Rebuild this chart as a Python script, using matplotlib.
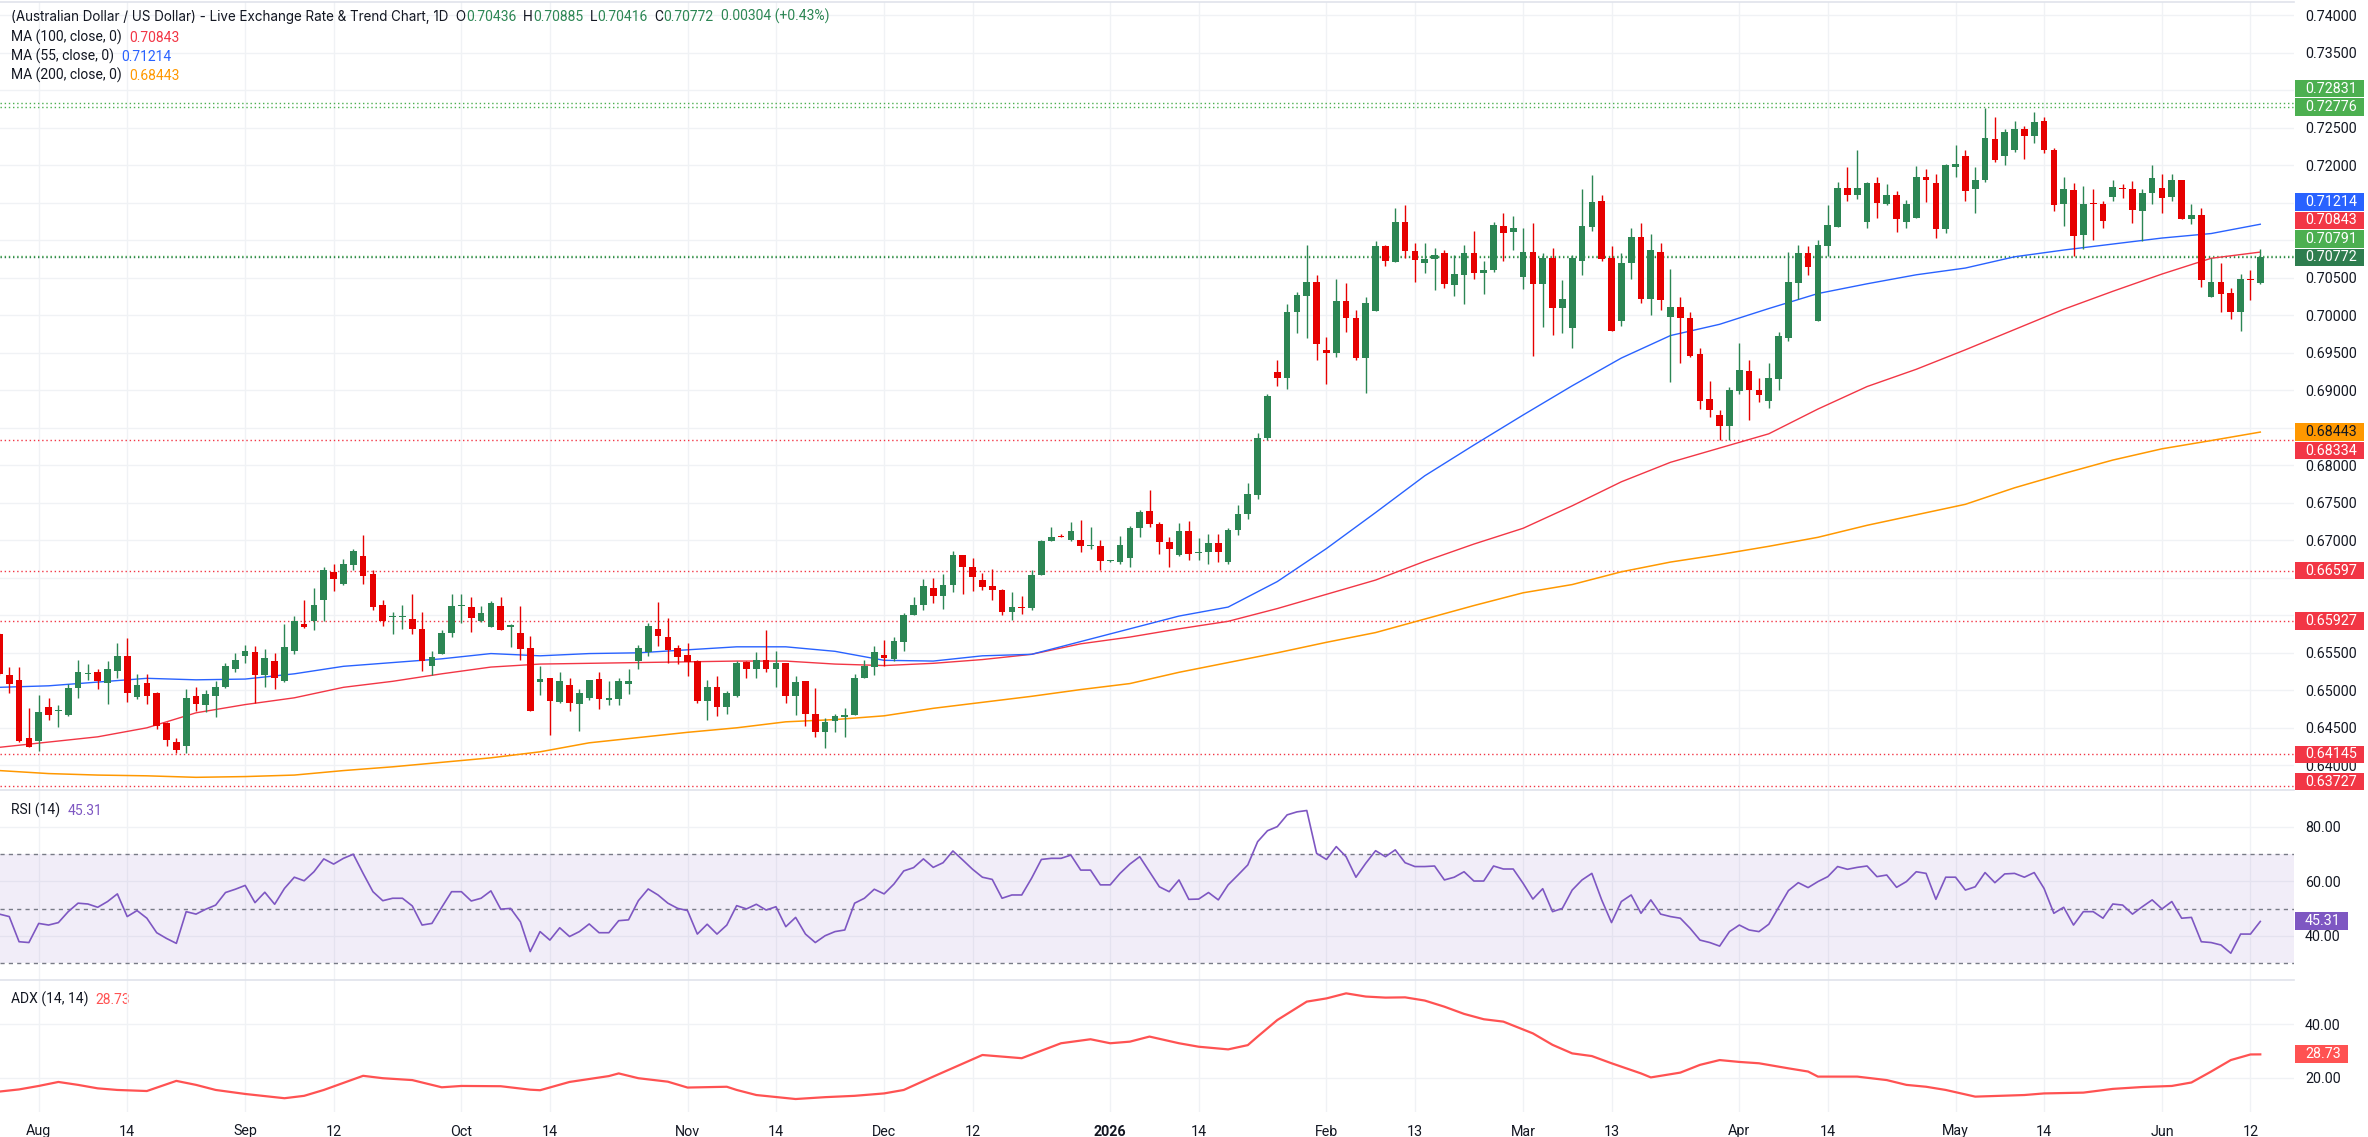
import numpy as np
import pandas as pd
import matplotlib
matplotlib.use("Agg")
import matplotlib.pyplot as plt
from matplotlib.transforms import blended_transform_factory
from matplotlib.patches import Rectangle

# ---------------- data ----------------
FIRST_DAY = "2025-07-28"
LAST_DAY = "2026-06-15"

OPEN = [
    .6575, .6521, .6514, .6437, .6432, .6478, .6473, .6467, .6503, .6522,
    .6524, .6510, .6526, .6546, .6491, .6510, .6497, .6456, .6431, .6426,
    .6492, .6480, .6492, .6505, .6529, .6546, .6551, .6521, .6539, .6512,
    .6553, .6588, .6592, .6621, .6658, .6642, .6667, .6679, .6655, .6614,
    .6598, .6598, .6595, .6582, .6533, .6549, .6577, .6613, .6611, .6593,
    .6585, .6613, .6584, .6577, .6556, .6511, .6516, .6485, .6507, .6482,
    .6490, .6515, .6488, .6488, .6509, .6539, .6551, .6582, .6571, .6556,
    .6547, .6539, .6486, .6505, .6478, .6492, .6538, .6529, .6541, .6529,
    .6537, .6492, .6512, .6468, .6444, .6459, .6465, .6467, .6517, .6531,
    .6547, .6542, .6565, .6601, .6614, .6637, .6626, .6640, .6680, .6665,
    .6647, .6639, .6634, .6604, .6611, .6610, .6654, .6699, .6706, .6701,
    .6701, .6692, .6693, .6673, .6671, .6677, .6716, .6739, .6722, .6698,
    .6681, .6713, .6683, .6684, .6697, .6671, .6714, .6735, .6761, .6837,
    .6925, .6917, .7004, .7026, .7045, .6954, .6950, .7019, .6996, .6943,
    .7006, .7092, .7071, .7124, .7086, .7070, .7075, .7083, .7041, .7054,
    .7083, .7056, .7060, .7119, .7111, .7051, .7085, .7042, .7077, .7010,
    .6983, .7073, .7118, .7152, .7077, .6993, .7070, .7104, .7022, .7085,
    .6998, .7011, .6996, .6948, .6888, .6867, .6852, .6899, .6926, .6900,
    .6886, .6915, .6970, .7043, .7083, .6992, .7093, .7118, .7170, .7160,
    .7124, .7176, .7149, .7160, .7125, .7130, .7184, .7176, .7115, .7198,
    .7213, .7168, .7181, .7235, .7213, .7221, .7248, .7239, .7259, .7221,
    .7149, .7167, .7107, .7149, .7149, .7158, .7170, .7168, .7139, .7163,
    .7170, .7158, .7180, .7129, .7134, .7024, .7044, .7030, .7004, .7048,
    .70436]

HIGH = [
    .6577, .6531, .6531, .6476, .6494, .6490, .6480, .6509, .6541, .6535,
    .6529, .6539, .6563, .6570, .6522, .6522, .6498, .6458, .6437, .6502,
    .6505, .6501, .6512, .6536, .6550, .6560, .6559, .6555, .6550, .6589,
    .6599, .6621, .6637, .6665, .6669, .6675, .6688, .6707, .6660, .6620,
    .6604, .6614, .6628, .6604, .6552, .6580, .6628, .6629, .6624, .6613,
    .6619, .6624, .6589, .6612, .6573, .6533, .6516, .6524, .6516, .6502,
    .6514, .6525, .6512, .6517, .6529, .6560, .6590, .6618, .6597, .6560,
    .6563, .6540, .6514, .6519, .6499, .6539, .6539, .6551, .6580, .6553,
    .6537, .6519, .6513, .6503, .6463, .6469, .6476, .6522, .6540, .6559,
    .6567, .6571, .6603, .6624, .6649, .6650, .6655, .6686, .6680, .6676,
    .6656, .6662, .6635, .6631, .6626, .6660, .6701, .6718, .6709, .6724,
    .6727, .6718, .6701, .6674, .6706, .6719, .6740, .6767, .6724, .6704,
    .6723, .6726, .6703, .6709, .6709, .6717, .6747, .6777, .6843, .6895,
    .6940, .7015, .7031, .7094, .7054, .6971, .7049, .7043, .7007, .7024,
    .7099, .7094, .7143, .7147, .7096, .7096, .7090, .7087, .7080, .7094,
    .7112, .7072, .7124, .7136, .7132, .7117, .7123, .7083, .7090, .7047,
    .7080, .7168, .7187, .7160, .7092, .7083, .7117, .7123, .7108, .7096,
    .7062, .7024, .7004, .6956, .6913, .6874, .6904, .6963, .6940, .6916,
    .6937, .6978, .7084, .7094, .7093, .7100, .7147, .7178, .7198, .7221,
    .7178, .7185, .7175, .7166, .7154, .7199, .7195, .7189, .7202, .7227,
    .7220, .7198, .7277, .7264, .7249, .7259, .7253, .7271, .7265, .7223,
    .7184, .7176, .7173, .7168, .7153, .7181, .7175, .7179, .7169, .7200,
    .7189, .7188, .7181, .7148, .7143, .7077, .7070, .7037, .7055, .7060,
    .70885]

LOW = [
    .6521, .6497, .6431, .6425, .6419, .6461, .6451, .6466, .6490, .6514,
    .6502, .6482, .6516, .6484, .6488, .6482, .6449, .6426, .6416, .6416,
    .6473, .6471, .6465, .6503, .6524, .6536, .6483, .6505, .6502, .6511,
    .6548, .6583, .6580, .6592, .6633, .6641, .6660, .6642, .6607, .6586,
    .6575, .6582, .6575, .6526, .6521, .6548, .6571, .6590, .6578, .6591,
    .6585, .6580, .6558, .6541, .6473, .6494, .6441, .6483, .6472, .6446,
    .6487, .6475, .6480, .6480, .6495, .6529, .6546, .6559, .6536, .6535,
    .6519, .6483, .6460, .6466, .6469, .6491, .6516, .6517, .6525, .6505,
    .6483, .6467, .6452, .6438, .6423, .6444, .6438, .6467, .6517, .6521,
    .6533, .6539, .6552, .6600, .6607, .6616, .6609, .6631, .6628, .6633,
    .6634, .6620, .6600, .6594, .6602, .6607, .6654, .6699, .6704, .6699,
    .6684, .6688, .6660, .6671, .6669, .6664, .6704, .6718, .6682, .6665,
    .6679, .6674, .6674, .6668, .6671, .6669, .6707, .6729, .6755, .6834,
    .6906, .6902, .6977, .6970, .6941, .6909, .6945, .6978, .6941, .6896,
    .7006, .7066, .7071, .7077, .7044, .7057, .7034, .7036, .7026, .7015,
    .7049, .7028, .7058, .7072, .7087, .7035, .6946, .6985, .6974, .6977,
    .6956, .7054, .7113, .7072, .6979, .6986, .7049, .7017, .7000, .7007,
    .6911, .6937, .6944, .6875, .6865, .6834, .6834, .6895, .6861, .6885,
    .6876, .6900, .6966, .7022, .7054, .6992, .7079, .7118, .7153, .7155,
    .7117, .7130, .7147, .7111, .7116, .7130, .7151, .7103, .7110, .7184,
    .7153, .7136, .7178, .7204, .7201, .7218, .7209, .7230, .7216, .7139,
    .7119, .7079, .7088, .7100, .7117, .7153, .7156, .7123, .7099, .7149,
    .7136, .7153, .7128, .7122, .7038, .7024, .7005, .6995, .6979, .7021,
    .70416]

CLOSE = [
    .6522, .6509, .6433, .6425, .6471, .6467, .6474, .6503, .6524, .6523,
    .6513, .6529, .6546, .6497, .6507, .6492, .6453, .6434, .6420, .6490,
    .6482, .6495, .6505, .6533, .6541, .6552, .6520, .6543, .6517, .6558,
    .6592, .6584, .6614, .6660, .6649, .6669, .6686, .6653, .6611, .6593,
    .6599, .6599, .6582, .6539, .6545, .6577, .6613, .6614, .6596, .6603,
    .6617, .6581, .6587, .6555, .6473, .6515, .6486, .6512, .6483, .6497,
    .6514, .6488, .6489, .6512, .6512, .6556, .6586, .6573, .6554, .6544,
    .6538, .6486, .6505, .6478, .6497, .6537, .6529, .6541, .6529, .6536,
    .6492, .6511, .6468, .6444, .6458, .6466, .6467, .6517, .6532, .6551,
    .6543, .6566, .6601, .6614, .6639, .6626, .6640, .6680, .6665, .6651,
    .6638, .6634, .6604, .6611, .6610, .6654, .6699, .6705, .6705, .6713,
    .6692, .6693, .6673, .6674, .6694, .6716, .6738, .6722, .6698, .6689,
    .6713, .6682, .6684, .6697, .6685, .6714, .6735, .6762, .6837, .6893,
    .6916, .7005, .7027, .7045, .6962, .6950, .7019, .6996, .6943, .7017,
    .7092, .7072, .7124, .7086, .7074, .7075, .7081, .7042, .7055, .7083,
    .7056, .7060, .7121, .7110, .7116, .7085, .7042, .7077, .7010, .7022,
    .7076, .7119, .7151, .7075, .6979, .7070, .7104, .7022, .7087, .7021,
    .7011, .6996, .6946, .6886, .6874, .6852, .6900, .6927, .6901, .6894,
    .6917, .6973, .7044, .7083, .7065, .7094, .7120, .7170, .7160, .7170,
    .7177, .7150, .7160, .7128, .7149, .7185, .7181, .7115, .7200, .7202,
    .7166, .7181, .7236, .7207, .7244, .7249, .7239, .7258, .7220, .7147,
    .7168, .7106, .7149, .7148, .7126, .7171, .7168, .7141, .7163, .7183,
    .7157, .7180, .7128, .7134, .7047, .7044, .7029, .7004, .7048, .70468,
    .70772]

# moving averages read every 5 sessions
MA_IDX = list(range(0, 231, 5))
MA55 = [.6504, .6506, .6511, .6516, .6514, .6515, .6522, .6532, .6537, .6542,
        .6549, .6546, .6549, .6550, .6554, .6558, .6558, .6552, .6540, .6539,
        .6546, .6548, .6565, .6582, .6599, .6611, .6645, .6689, .6737, .6786,
        .6827, .6867, .6906, .6943, .6973, .6988, .7009, .7029, .7042, .7054,
        .7063, .7078, .7087, .7095, .7103, .7109, .71214]
MA100 = [.6424, .6431, .6438, .6450, .6470, .6481, .6490, .6504, .6512, .6522,
         .6531, .6535, .6536, .6537, .6538, .6539, .6539, .6535, .6533, .6536,
         .6541, .6548, .6562, .6571, .6582, .6592, .6609, .6628, .6647, .6672,
         .6695, .6716, .6746, .6778, .6804, .6823, .6842, .6875, .6905, .6928,
         .6954, .6981, .7008, .7032, .7055, .7076, .70843]
MA200 = [.6393, .6389, .6387, .6386, .6384, .6385, .6387, .6393, .6398, .6404,
         .6410, .6418, .6430, .6437, .6444, .6450, .6458, .6461, .6466, .6476,
         .6484, .6492, .6501, .6509, .6524, .6537, .6550, .6564, .6577, .6595,
         .6613, .6630, .6641, .6658, .6671, .6681, .6692, .6704, .6720, .6734,
         .6748, .6770, .6789, .6807, .6822, .6833, .68443]

RSI14 = [
    48.0, 47.1, 37.9, 37.6, 44.6, 44.0, 44.9, 48.9, 52.0, 51.7,
    50.5, 52.6, 55.4, 47.1, 49.3, 46.5, 41.2, 39.1, 37.3, 48.9,
    48.0, 49.8, 51.3, 55.9, 57.1, 58.5, 52.2, 56.0, 51.6, 57.4,
    61.5, 60.2, 63.5, 68.2, 66.3, 68.4, 69.9, 62.9, 56.2, 52.9,
    53.8, 53.8, 51.0, 44.0, 44.6, 50.5, 56.2, 56.2, 52.8, 53.8,
    56.5, 49.8, 50.1, 45.2, 34.3, 41.6, 38.5, 43.0, 39.8, 41.6,
    44.4, 41.2, 41.2, 45.6, 45.9, 52.9, 57.2, 55.0, 52.0, 50.1,
    49.3, 40.7, 44.3, 40.7, 44.0, 51.1, 49.9, 51.6, 49.5, 50.7,
    43.4, 46.8, 40.7, 37.6, 40.1, 41.6, 42.2, 52.0, 53.8, 57.1,
    55.4, 59.0, 63.8, 65.0, 68.2, 65.1, 66.8, 71.1, 67.8, 64.4,
    61.5, 60.7, 53.8, 55.0, 55.0, 61.1, 68.0, 68.4, 68.4, 69.6,
    64.1, 64.1, 58.7, 58.7, 62.9, 66.3, 69.0, 63.5, 58.0, 56.2,
    60.5, 53.4, 53.5, 55.9, 53.2, 58.7, 62.3, 66.0, 74.5, 78.5,
    80.0, 84.3, 85.4, 85.9, 70.2, 68.0, 72.7, 69.0, 61.5, 66.6,
    71.2, 69.0, 71.5, 66.8, 65.4, 65.4, 65.6, 60.5, 61.5, 63.5,
    60.1, 60.1, 65.6, 64.5, 64.5, 59.3, 53.5, 57.3, 48.9, 50.1,
    56.8, 60.5, 62.9, 53.2, 44.9, 52.6, 55.0, 48.3, 53.2, 48.0,
    47.1, 46.5, 42.8, 38.5, 37.6, 36.3, 41.6, 44.0, 42.2, 41.6,
    44.3, 50.5, 56.6, 59.5, 57.7, 59.9, 61.7, 65.4, 64.4, 65.1,
    65.6, 61.7, 62.3, 57.8, 59.9, 63.5, 62.9, 53.4, 61.5, 61.5,
    56.8, 58.0, 63.2, 59.5, 62.7, 62.9, 61.5, 63.2, 57.4, 48.3,
    50.5, 44.0, 48.9, 48.9, 46.5, 51.7, 51.3, 48.0, 50.7, 53.2,
    49.9, 52.6, 46.5, 46.8, 37.9, 37.6, 36.7, 33.7, 40.7, 40.7,
    45.31]

ADX_IDX = [0, 2, 4, 6, 8, 10, 12, 15, 18, 20, 22, 25, 29, 31, 33, 37, 39, 42,
           45, 47, 51, 54, 55, 58, 62, 63, 65, 68, 70, 74, 75, 77, 81, 84, 87,
           90, 92, 95, 100, 104, 108, 111, 113, 115, 117, 120, 122, 125, 127,
           128, 130, 133, 135, 137, 139, 141, 143, 145, 147, 149, 151, 153, 156,
           158, 160, 162, 164, 167, 168, 171, 173, 175, 177, 179, 182, 184, 185,
           189, 192, 194, 196, 198, 201, 206, 208, 212, 215, 218, 221, 223, 225,
           227, 229, 230]
ADX14 = [14.8, 15.6, 16.9, 18.4, 17.3, 16.0, 15.4, 15.0, 18.8, 17.3, 15.4, 13.9,
         12.3, 13.2, 15.4, 20.7, 19.8, 19.1, 16.4, 16.9, 16.8, 15.5, 15.3, 18.4,
         20.6, 21.6, 19.8, 18.5, 16.3, 16.6, 15.4, 13.5, 12.0, 12.7, 13.2, 14.1,
         15.4, 20.4, 28.5, 27.3, 32.9, 34.4, 32.9, 33.5, 35.4, 32.9, 31.6, 30.6,
         32.2, 35.4, 41.6, 48.5, 49.7, 51.6, 50.4, 50.0, 50.1, 48.9, 46.6, 43.9,
         41.9, 41.0, 36.6, 32.3, 29.1, 28.1, 25.4, 21.6, 20.1, 21.9, 24.8, 26.6,
         25.9, 25.4, 23.5, 22.3, 20.4, 20.4, 19.1, 17.3, 16.6, 15.4, 12.9, 13.5,
         14.1, 14.4, 15.8, 16.5, 16.9, 18.2, 22.3, 26.6, 28.7, 28.73]

LINES_GREEN = [0.72831, 0.72776, 0.70791]
LINES_RED = [0.68334, 0.66597, 0.65927, 0.64145, 0.63727]
LAST_PRICE = 0.70772
MA100_LAST, MA55_LAST, MA200_LAST = 0.70843, 0.71214, 0.68443
RSI_LAST, ADX_LAST = 45.31, 28.73

TICK_DATES = ['2025-08-01', '2025-08-14', '2025-09-01', '2025-09-12', '2025-10-01',
              '2025-10-14', '2025-11-03', '2025-11-14', '2025-12-01', '2025-12-12',
              '2026-01-01', '2026-01-14', '2026-02-02', '2026-02-13', '2026-03-02',
              '2026-03-13', '2026-04-01', '2026-04-14', '2026-05-01', '2026-05-14',
              '2026-06-01', '2026-06-12']
TICK_LABELS = ['Aug', '14', 'Sep', '12', 'Oct', '14', 'Nov', '14', 'Dec', '12',
               '2026', '14', 'Feb', '13', 'Mar', '13', 'Apr', '14', 'May', '14',
               'Jun', '12']

PRICE_TICKS = [round(0.640 + 0.005 * k, 3) for k in range(21)]
RSI_TICKS = [40, 60, 80]
ADX_TICKS = [20, 40]

# ---------------- style ----------------
plt.rcParams['font.family'] = ['Roboto', 'DejaVu Sans']
TITLE_FAMILY = ['Inter', 'Roboto', 'DejaVu Sans']
TXT = '#131722'
UP = '#2C8654'
DN = '#E60000'
GRID = '#F0F2F5'
SEP = '#E0E3EB'
C_MA55 = '#2962FF'
C_MA100 = '#F23645'
C_MA200 = '#FF9800'
C_LG = '#4CAF50'
C_LAST = '#2E7D4F'
C_RSI = '#7E57C2'
C_ADX = '#FF5252'
FS_AX = 10.3
FS_LEG = 10.0
FS_TITLE = 9.7

W, H = 2368, 1137
PR = 2294  # right edge of plotting area (px)

fig = plt.figure(figsize=(W / 100, H / 100), dpi=100)
fig.patch.set_facecolor('white')


def add_ax(top, bottom):
    return fig.add_axes([0, 1 - bottom / H, PR / W, (bottom - top) / H])


ax = add_ax(2, 790)
ax_r = add_ax(790, 980)
ax_a = add_ax(980, 1112)

dates = pd.bdate_range(FIRST_DAY, LAST_DAY)
n = len(dates)
idx = np.arange(n)
O, Hh, L, C = (np.array(a, float) for a in (OPEN, HIGH, LOW, CLOSE))
assert len(O) == n == len(RSI14)

tick_pos = [dates.get_loc(pd.Timestamp(d)) for d in TICK_DATES]
XLIM = (0.06, 233.43)
YLIM = (0.63671, 0.74177)
RLIM = (23.9, 93.4)
ALIM = (7.14, 56.6)
MAIN_H = 790 - 2
px_per_unit = MAIN_H / (YLIM[1] - YLIM[0])

for a in (ax, ax_r, ax_a):
    a.set_xlim(*XLIM)
    a.set_xticks(tick_pos)
    a.grid(True, axis='both', color=GRID, lw=1.0, zorder=0)
    a.set_axisbelow(True)
    for s in ('left', 'right', 'bottom'):
        a.spines[s].set_visible(False)
    a.spines['top'].set_color(SEP)
    a.spines['top'].set_linewidth(1.2)
    a.yaxis.tick_right()
    a.tick_params(axis='both', length=0, labelsize=FS_AX, labelcolor=TXT)
    a.tick_params(axis='y', pad=8)
    a.set_facecolor('none')

ax.tick_params(axis='x', labelbottom=False)
ax_r.tick_params(axis='x', labelbottom=False)
ax_a.set_xticklabels(TICK_LABELS)
ax_a.tick_params(axis='x', pad=9)
for t in ax_a.get_xticklabels():
    if t.get_text() == '2026':
        t.set_fontweight('bold')

# ---- price-scale badge positions (stacked away from the last price) ----
main_badges = [
    (0.72831, C_LG, 'white'), (0.72776, C_LG, 'white'),
    (MA55_LAST, C_MA55, 'white'), (MA100_LAST, C_MA100, 'white'),
    (0.70791, C_LG, 'white'), (LAST_PRICE, C_LAST, 'white'),
    (MA200_LAST, C_MA200, TXT), (0.68334, C_MA100, 'white'),
    (0.66597, C_MA100, 'white'), (0.65927, C_MA100, 'white'),
    (0.64145, C_MA100, 'white'), (0.63727, C_MA100, 'white')]
gap = 18.5 / px_per_unit
vals = np.array([b[0] for b in main_badges])
pos = vals.copy()
above = sorted([k for k in range(len(vals)) if vals[k] >= LAST_PRICE], key=lambda k: vals[k])
prev = None
for k in above:
    if prev is not None:
        pos[k] = max(vals[k], prev + gap)
    prev = pos[k]
below = sorted([k for k in range(len(vals)) if vals[k] < LAST_PRICE], key=lambda k: -vals[k])
prev = LAST_PRICE
for k in below:
    pos[k] = min(vals[k], prev - gap)
    prev = pos[k]
floor = YLIM[0] + 8.5 / px_per_unit
prev = None
for k in sorted(below, key=lambda k: pos[k]):
    lo = floor if prev is None else prev + gap
    pos[k] = max(pos[k], lo)
    prev = pos[k]

# ---- main price panel ----
ax.set_ylim(*YLIM)
ax.set_yticks(PRICE_TICKS)
labels = []
for v in PRICE_TICKS:
    hidden = np.min(np.abs(pos - v)) * px_per_unit < 10.0
    labels.append('' if hidden else f"{v:.5f}")
ax.set_yticklabels(labels)

for v in LINES_GREEN:
    ax.axhline(v, color=C_LG, lw=1.0, ls=(0, (1, 2)), zorder=1)
ax.axhline(LAST_PRICE, color=C_LAST, lw=1.0, ls=(0, (1, 2)), zorder=1)
for v in LINES_RED:
    ax.axhline(v, color=C_MA100, lw=1.0, ls=(0, (1, 2)), zorder=1)

ax.plot(MA_IDX, MA200, color=C_MA200, lw=1.1, zorder=2)
ax.plot(MA_IDX, MA100, color=C_MA100, lw=1.0, zorder=2)
ax.plot(MA_IDX, MA55, color=C_MA55, lw=1.0, zorder=2)

up = C >= O
cols = np.where(up, UP, DN)
ax.vlines(idx, L, Hh, colors=cols, linewidth=1.0, zorder=3)
body_lo = np.minimum(O, C)
body_h = np.abs(C - O)
min_h = 0.00015
small = body_h < min_h
body_lo = np.where(small, (O + C) / 2 - min_h / 2, body_lo)
body_h = np.where(small, min_h, body_h)
ax.bar(idx, body_h, bottom=body_lo, width=0.68, color=cols, linewidth=0, zorder=4)

# ---- RSI panel ----
ax_r.set_ylim(*RLIM)
ax_r.set_yticks(RSI_TICKS)
ax_r.set_yticklabels([f"{v:.2f}" for v in RSI_TICKS])
ax_r.axhspan(30, 70, color=C_RSI, alpha=0.10, lw=0, zorder=1)
for lvl in (70, 50, 30):
    ax_r.axhline(lvl, color='#787B86', lw=1.0, ls=(0, (3, 3)), zorder=2)
ax_r.plot(idx, RSI14, color=C_RSI, lw=1.2, zorder=3)

# ---- ADX panel ----
ax_a.set_ylim(*ALIM)
ax_a.set_yticks(ADX_TICKS)
ax_a.set_yticklabels([f"{v:.2f}" for v in ADX_TICKS])
ax_a.plot(ADX_IDX, ADX14, color=C_ADX, lw=1.6, zorder=3)


def badge(a, yval, text, fc, tc='white', w_px=69, h_px=17.5):
    tr = blended_transform_factory(a.transAxes, a.transData)
    y0, y1 = a.get_ylim()
    ax_h = a.get_position().height * H
    h = h_px * (y1 - y0) / ax_h
    a.add_patch(Rectangle((1 + 1 / PR, yval - h / 2), w_px / PR, h, transform=tr,
                          facecolor=fc, edgecolor='none', clip_on=False, zorder=20))
    a.text(1 + 11 / PR, yval, text, transform=tr, ha='left', va='center',
           color=tc, fontsize=FS_AX, zorder=21, clip_on=False)


for (v, fc, tc), p in zip(main_badges, pos):
    badge(ax, p, f"{v:.5f}", fc, tc)
badge(ax_r, RSI_LAST, f"{RSI_LAST:.2f}", C_RSI, w_px=53, h_px=18)
badge(ax_a, ADX_LAST, f"{ADX_LAST:.2f}", C_ADX, w_px=53, h_px=18)

for a, lim in ((ax, YLIM), (ax_r, RLIM), (ax_a, ALIM)):
    a.set_ylim(*lim)
    a.set_xlim(*XLIM)


# ---- legends ----
def chain(parts, x_px, y_px, fs=FS_LEG, first_family=None, first_fs=None):
    kw = {'family': first_family} if first_family else {}
    prev = ax.annotate(parts[0][0], xy=(x_px, H - y_px), xycoords='figure pixels',
                       ha='left', va='center', color=parts[0][1],
                       fontsize=first_fs or fs, annotation_clip=False, zorder=30, **kw)
    for s, c in parts[1:]:
        prev = ax.annotate(s, xy=(1, 0), xycoords=prev, ha='left', va='bottom',
                           color=c, fontsize=fs, annotation_clip=False, zorder=30)


chain([("(Australian Dollar / US Dollar) - Live Exchange Rate & Trend Chart, 1D  O", TXT),
       (f"{OPEN[-1]:.5f}", UP), ("  H", TXT), (f"{HIGH[-1]:.5f}", UP),
       ("  L", TXT), (f"{LOW[-1]:.5f}", UP), ("  C", TXT), (f"{CLOSE[-1]:.5f}", UP),
       (f"  {CLOSE[-1] - CLOSE[-2]:.5f} (+{(CLOSE[-1] / CLOSE[-2] - 1) * 100:.2f}%)", UP)],
      11, 17, first_family=TITLE_FAMILY, first_fs=FS_TITLE)
chain([("MA (100, close, 0)  ", TXT), (f"{MA100_LAST:.5f}", C_MA100)], 11, 37)
chain([("MA (55, close, 0)  ", TXT), (f"{MA55_LAST:.5f}", C_MA55)], 11, 56)
chain([("MA (200, close, 0)  ", TXT), (f"{MA200_LAST:.5f}", C_MA200)], 11, 75)
chain([("RSI (14)  ", TXT), (f"{RSI_LAST:.2f}", C_RSI)], 11, 810)
chain([("ADX (14, 14)  ", TXT), (f"{ADX_LAST:.2f}", C_ADX)], 11, 999)

fig.savefig('out.png', dpi=100, facecolor='white')
